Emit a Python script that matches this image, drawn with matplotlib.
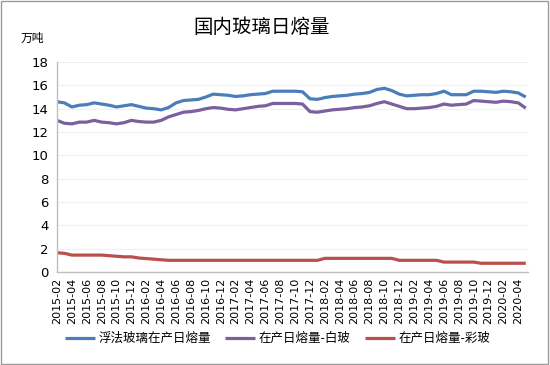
import matplotlib
matplotlib.use("Agg")
import matplotlib.pyplot as plt
from matplotlib.patches import Rectangle

plt.rcParams['font.family'] = ['Noto Sans CJK SC', 'DejaVu Sans']

# monthly points, 2015-02 .. 2020-05
months = [f"{2015 + (1 + i) // 12}-{(1 + i) % 12 + 1:02d}" for i in range(64)]

float_total = [14.6, 14.5, 14.15, 14.3, 14.35, 14.5, 14.4, 14.3, 14.15, 14.25,
               14.35, 14.2, 14.05, 14.0, 13.9, 14.1, 14.5, 14.7, 14.75, 14.8,
               15.0, 15.25, 15.2, 15.15, 15.05, 15.1, 15.2, 15.25, 15.3, 15.5,
               15.5, 15.5, 15.5, 15.45, 14.85, 14.8, 14.95, 15.05, 15.1, 15.15,
               15.25, 15.3, 15.4, 15.65, 15.75, 15.55, 15.25, 15.1, 15.15, 15.2,
               15.2, 15.3, 15.5, 15.2, 15.2, 15.2, 15.5, 15.5, 15.45, 15.4,
               15.5, 15.45, 15.35, 15.0]
white_glass = [13.0, 12.75, 12.7, 12.85, 12.85, 13.0, 12.85, 12.8, 12.7, 12.8,
               13.0, 12.9, 12.85, 12.85, 13.0, 13.3, 13.5, 13.7, 13.75, 13.85,
               14.0, 14.1, 14.05, 13.95, 13.9, 14.0, 14.1, 14.2, 14.25, 14.45,
               14.45, 14.45, 14.45, 14.4, 13.75, 13.7, 13.8, 13.9, 13.95, 14.0,
               14.1, 14.15, 14.25, 14.45, 14.6, 14.4, 14.2, 14.0, 14.0, 14.05,
               14.1, 14.2, 14.4, 14.3, 14.35, 14.4, 14.7, 14.65, 14.6, 14.55,
               14.65, 14.6, 14.5, 14.05]
color_glass = [1.65, 1.6, 1.45, 1.45, 1.45, 1.45, 1.45, 1.4, 1.35, 1.3,
               1.3, 1.2, 1.15, 1.1, 1.05, 1.0, 1.0, 1.0, 1.0, 1.0,
               1.0, 1.0, 1.0, 1.0, 1.0, 1.0, 1.0, 1.0, 1.0, 1.0,
               1.0, 1.0, 1.0, 1.0, 1.0, 1.0, 1.17, 1.17, 1.17, 1.17,
               1.17, 1.17, 1.17, 1.17, 1.17, 1.17, 1.0, 1.0, 1.0, 1.0,
               1.0, 1.0, 0.85, 0.85, 0.85, 0.85, 0.85, 0.75, 0.75, 0.75,
               0.75, 0.75, 0.75, 0.75]

series_names = ['浮法玻璃在产日熔量', '在产日熔量-白玻', '在产日熔量-彩玻']
colors = ['#4a7ebb', '#7b5f9e', '#b9504c']
tick_labels = months[0:63:2]
yticks = [0, 2, 4, 6, 8, 10, 12, 14, 16, 18]

fig = plt.figure(figsize=(5.5, 3.65), dpi=100)
ax = fig.add_axes([0.1036, 0.2548, 0.8564, 0.5752])

x = list(range(len(months)))
for vals, name, c in zip([float_total, white_glass, color_glass], series_names, colors):
    ax.plot(x, vals, color=c, lw=2.3, label=name, solid_capstyle='butt')

ax.set_xlim(0, 63.3)
ax.set_ylim(0, 18)
ax.set_yticks(yticks)
ax.set_yticklabels([str(v) for v in yticks], fontsize=9.5, family=['DejaVu Sans'])
ax.set_xticks(list(range(0, 63, 2)))
ax.set_xticklabels(tick_labels, rotation=90, fontsize=8, family=['DejaVu Sans'])
ax.tick_params(axis='both', length=0, pad=4)
ax.tick_params(axis='y', pad=6)
ax.grid(axis='y', color='#f0f0f0', lw=0.8)
ax.set_axisbelow(True)
for s in ['top', 'right']:
    ax.spines[s].set_visible(False)
for s in ['left', 'bottom']:
    ax.spines[s].set_color('#bfbfbf')
    ax.spines[s].set_linewidth(1.0)

fig.text(0.476, 0.925, '国内玻璃日熔量', ha='center', va='center', fontsize=14)
fig.text(0.058, 0.895, '万吨', ha='center', va='center', fontsize=8.5)

fig.legend(loc='center', bbox_to_anchor=(0.505, 0.072), ncol=3, frameon=False,
           fontsize=9, handlelength=2.4, columnspacing=1.1, handletextpad=0.3)

fig.add_artist(Rectangle((0.002, 0.003), 0.995, 0.993, transform=fig.transFigure,
                         fill=False, edgecolor='#9a9a9a', lw=1.0))

fig.savefig('out.png', dpi=100)
